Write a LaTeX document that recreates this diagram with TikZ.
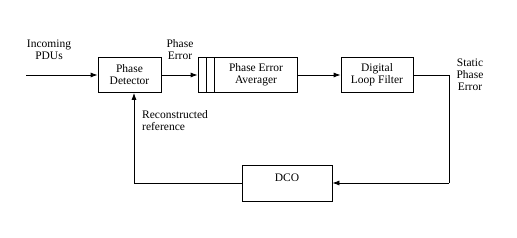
\documentclass[tikz,border=0pt]{standalone}
\usepackage{fontspec}
\setmainfont{Liberation Serif}
\usetikzlibrary{arrows.meta,positioning}

\begin{document}
\begin{tikzpicture}[
  x=1pt, y=1pt,
  font=\fontsize{11.5}{12}\selectfont,
  blk/.style={draw, line width=0.8pt, align=center, minimum height=35pt, inner sep=1pt},
  lbl/.style={align=center, inner sep=0pt},
  ar/.style={-{Latex[length=7pt,width=5pt]}, line width=0.8pt},
  ln/.style={line width=0.8pt}]
\useasboundingbox (0,0) rectangle (517,238);
\node[blk, minimum width=63pt] (pd) at (129.5,163) {Phase\\Detector};
\node[blk, minimum width=99pt] (avg) at (247.5,163) {\hspace*{17pt}Phase Error\\\hspace*{17pt}Averager};
\node[blk, minimum width=72pt] (lf) at (377,163) {Digital\\Loop Filter};
\node[blk, minimum width=90pt, minimum height=36pt] (dco) at (287,55) {DCO\\[-2pt]};
\coordinate (in) at (26,163);
\coordinate (c1) at (449,163);
\coordinate (c2) at (449,55);
\coordinate (c3) at (134,55);
\node[lbl] (inlbl) at (49,188) {Incoming\\PDUs};
\node[lbl] (pelbl) at (180,188) {Phase\\Error};
\node[lbl] (splbl) at (470,163) {Static\\Phase\\Error};
\node[lbl, align=left, anchor=north west] (rrlbl) at (142,128) {Reconstructed\\reference};
% slots of the averager
\draw[ln] ([xshift=9pt]avg.north west) -- ([xshift=9pt]avg.south west);
\draw[ln] ([xshift=17pt]avg.north west) -- ([xshift=17pt]avg.south west);
\draw[ar] (in) -- (pd.west);
\draw[ar] (pd) -- (avg);
\draw[ar] (avg) -- (lf);
\draw[ln] (lf.east) -- (c1) -- (c2);
\draw[ar] (c2) -- (dco.east);
\draw[ar] (dco.west) -- (c3) -- (c3 |- pd.south);
\end{tikzpicture}
\end{document}
